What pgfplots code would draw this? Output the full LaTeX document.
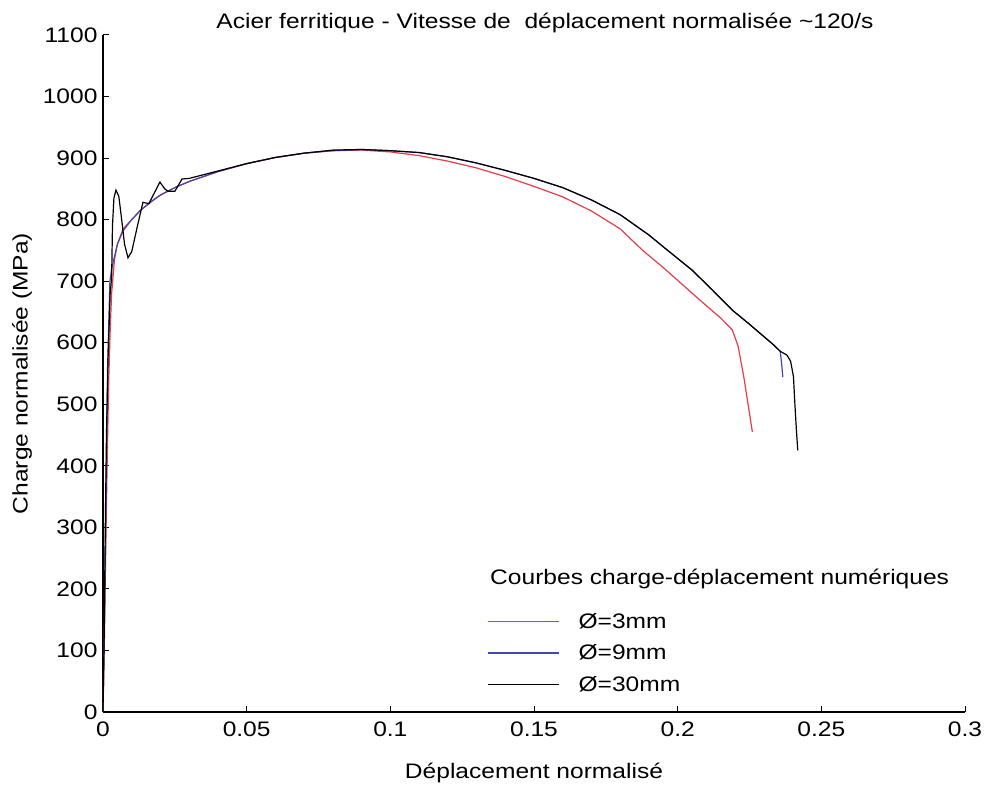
\documentclass[border=0pt]{standalone}
\usepackage{fontspec}
\setmainfont{Liberation Sans}[FakeStretch=1.17]
\usepackage{pgfplots}
\pgfplotsset{compat=1.18}
\definecolor{cred}{RGB}{228,60,72}
\definecolor{cblue}{RGB}{70,70,175}
\newcommand{\fs}{\fontsize{21}{25}\selectfont}
\begin{document}
\begin{tikzpicture}
\begin{axis}[
  at={(0,0)}, anchor=south west,
  scale only axis, width=862pt, height=677pt,
  xmin=0, xmax=0.3, ymin=0, ymax=1100,
  axis x line*=bottom, axis y line*=left,
  axis line style={line width=1.1pt, -},
  tick align=inside, major tick length=6pt,
  tick style={line width=1pt, black},
  xtick={0,0.05,...,0.3}, ytick={0,100,...,1100},
  xticklabels={0,0.05,0.1,0.15,0.2,0.25,0.3},
  /pgf/number format/assume math mode=true,
  /pgf/number format/1000 sep={},
  scaled x ticks=false,
  tick label style={font=\fs},
  xticklabel style={yshift=-6pt},
  yticklabel style={xshift=-2pt},
  xlabel={Déplacement normalisé}, ylabel={Charge normalisée (MPa)},
  label style={font=\fs},
  xlabel style={yshift=-20pt},
  ylabel style={yshift=4pt},
  legend style={at={(axis cs:0.1337,164)}, anchor=north west, draw=none, fill=none,
    font=\fs, row sep=11pt, inner sep=0pt},
  legend cell align=left,
  legend image code/.code={\draw[#1] (0pt,0pt) -- (71pt,0pt); \path (88pt,0pt);},
  every axis plot/.append style={line width=1.2pt},
]
\addplot[cred] coordinates {
(0,0) (0.0005,120) (0.001,280) (0.0015,420) (0.002,540) (0.0025,620) (0.003,680)
(0.004,735) (0.005,760) (0.007,785) (0.01,800) (0.013,815) (0.017,830) (0.02,840)
(0.025,852) (0.03,862) (0.04,878) (0.05,891) (0.06,901) (0.07,908) (0.08,912)
(0.09,913) (0.1,910) (0.11,904) (0.12,895) (0.13,884) (0.14,870) (0.15,854)
(0.16,837) (0.17,814) (0.18,785) (0.1876,751) (0.195,722) (0.2078,669)
(0.215,640) (0.219,621) (0.221,595) (0.223,545) (0.2245,500) (0.226,455)
};
\addlegendentry{Ø=3mm}
\addplot[cblue] coordinates {
(0,0) (0.0005,150) (0.001,320) (0.0016,560) (0.0024,700) (0.003,720) (0.005,760)
(0.007,782) (0.01,800) (0.013,815) (0.017,830) (0.02,840)
(0.025,852) (0.03,862) (0.04,878) (0.05,891) (0.06,901) (0.07,908) (0.08,912)
(0.09,914) (0.1,912) (0.11,909) (0.12,902) (0.13,892) (0.14,880) (0.15,867)
(0.16,852) (0.17,832) (0.18,808) (0.19,775) (0.196,752) (0.205,718) (0.212,686)
(0.219,653) (0.225,630) (0.23,610) (0.2335,596) (0.2357,586) (0.2362,565) (0.2366,544)
};
\addlegendentry{Ø=9mm}
\addplot[black] coordinates {
(0,0) (0.0004,120) (0.0008,300) (0.0012,450) (0.0018,580) (0.0025,680) (0.003,705)
(0.0033,790) (0.0038,835) (0.0045,848) (0.0055,838) (0.0065,800) (0.0075,760)
(0.0087,738) (0.010,748) (0.012,790) (0.0139,828) (0.016,826) (0.0175,840)
(0.0198,861) (0.0215,850) (0.0226,846) (0.025,846) (0.0275,866) (0.03,867)
(0.035,873) (0.04,879) (0.05,891) (0.06,901) (0.07,908) (0.08,913)
(0.09,914) (0.1,912) (0.11,909) (0.12,902) (0.13,892) (0.14,880) (0.15,867)
(0.16,852) (0.17,832) (0.18,808) (0.19,775) (0.196,752) (0.205,718) (0.212,686)
(0.219,653) (0.225,630) (0.23,610) (0.2335,596) (0.2357,586) (0.238,580)
(0.2393,570) (0.2403,545) (0.2408,500) (0.2413,460) (0.2418,425)
};
\addlegendentry{Ø=30mm}
\end{axis}
\node[anchor=base west, font=\fs, inner sep=0pt] at (387pt,127pt) {Courbes charge-déplacement numériques};
\node[anchor=base, font=\fs, inner sep=0pt] at (442pt,683pt) {Acier ferritique - Vitesse de \ déplacement normalisée \textasciitilde 120/s};
\pgfresetboundingbox
\useasboundingbox (-103pt,-74pt) rectangle (882pt,712pt);
\end{tikzpicture}
\end{document}
